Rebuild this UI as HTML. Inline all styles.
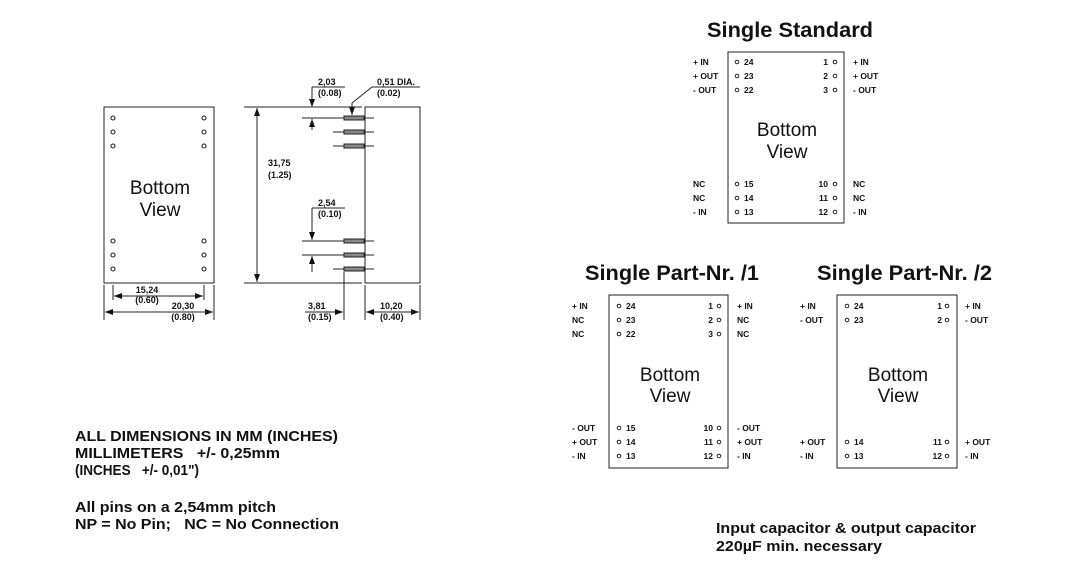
<!DOCTYPE html>
<html><head><meta charset="utf-8"><style>
html,body{margin:0;padding:0;background:#fff;}
svg{display:block;font-family:"Liberation Sans",Arial,sans-serif;}
.b{font-weight:bold;}
.s{font-size:8.5px;font-weight:bold;}
.d{font-size:9px;font-weight:bold;}
</style></head><body>
<svg width="1070" height="587" viewBox="0 0 1070 587" xmlns="http://www.w3.org/2000/svg">
<defs>
<marker id="a" markerWidth="8" markerHeight="6" refX="8" refY="3" orient="auto" markerUnits="userSpaceOnUse"><path d="M0,0 L8,3 L0,6 z" fill="#111"/></marker>
</defs>
<g stroke="#222" fill="none" stroke-width="1">
<rect x="104" y="107" width="110" height="176"/>
<g stroke-width="1.1">
<circle cx="113" cy="118" r="2"/><circle cx="113" cy="132" r="2"/><circle cx="113" cy="146" r="2"/>
<circle cx="113" cy="241" r="2"/><circle cx="113" cy="255" r="2"/><circle cx="113" cy="269" r="2"/>
<circle cx="204" cy="118" r="2"/><circle cx="204" cy="132" r="2"/><circle cx="204" cy="146" r="2"/>
<circle cx="204" cy="241" r="2"/><circle cx="204" cy="255" r="2"/><circle cx="204" cy="269" r="2"/>
</g>
<line x1="104" y1="285" x2="104" y2="320"/><line x1="214" y1="285" x2="214" y2="320"/>
<line x1="113" y1="285" x2="113" y2="300"/><line x1="204" y1="285" x2="204" y2="300"/>
<line x1="114" y1="296" x2="203" y2="296" marker-end="url(#a)"/><line x1="203" y1="296" x2="114" y2="296" marker-end="url(#a)"/>
<line x1="105" y1="312" x2="213" y2="312" marker-end="url(#a)"/><line x1="213" y1="312" x2="105" y2="312" marker-end="url(#a)"/>
<line x1="244" y1="107" x2="362" y2="107"/><line x1="244" y1="283" x2="362" y2="283"/>
<rect x="365" y="107" width="55" height="176"/>
<line x1="257" y1="195" x2="257" y2="108" marker-end="url(#a)"/><line x1="257" y1="195" x2="257" y2="282" marker-end="url(#a)"/>
<line x1="302" y1="118" x2="374" y2="118"/><line x1="333" y1="132" x2="374" y2="132"/><line x1="333" y1="146" x2="374" y2="146"/>
<line x1="302" y1="241" x2="374" y2="241"/><line x1="302" y1="255" x2="374" y2="255"/><line x1="333" y1="269" x2="374" y2="269"/>
<g fill="#888" stroke="#222">
<rect x="344" y="116" width="20" height="4"/><rect x="344" y="130" width="20" height="4"/><rect x="344" y="144" width="20" height="4"/>
<rect x="344" y="239" width="20" height="4"/><rect x="344" y="253" width="20" height="4"/><rect x="344" y="267" width="20" height="4"/>
</g>
<line x1="312" y1="87" x2="345" y2="87"/>
<line x1="312" y1="87" x2="312" y2="107" marker-end="url(#a)"/>
<line x1="312" y1="130" x2="312" y2="119" marker-end="url(#a)"/>
<line x1="372" y1="87" x2="420" y2="87"/><line x1="372" y1="87" x2="352" y2="103"/>
<line x1="352" y1="103" x2="352" y2="115" marker-end="url(#a)"/>
<line x1="312" y1="208" x2="345" y2="208"/>
<line x1="312" y1="208" x2="312" y2="240" marker-end="url(#a)"/>
<line x1="312" y1="272" x2="312" y2="256" marker-end="url(#a)"/>
<line x1="344" y1="272" x2="344" y2="320"/><line x1="365" y1="285" x2="365" y2="320"/><line x1="420" y1="285" x2="420" y2="320"/>
<line x1="305" y1="312" x2="343" y2="312" marker-end="url(#a)"/>
<line x1="366" y1="312" x2="419" y2="312" marker-end="url(#a)"/><line x1="419" y1="312" x2="366" y2="312" marker-end="url(#a)"/>
<rect x="728" y="52" width="116" height="171"/>
<rect x="609" y="295" width="119" height="173"/>
<rect x="837" y="295" width="120" height="173"/>
</g>
<g fill="#111">
<text x="160" y="194" font-size="19" text-anchor="middle">Bottom</text>
<text x="160" y="216" font-size="19" text-anchor="middle">View</text>
<text class="d" x="147" y="293" text-anchor="middle">15,24</text><text class="d" x="147" y="303" text-anchor="middle">(0.60)</text>
<text class="d" x="183" y="309" text-anchor="middle">20,30</text><text class="d" x="183" y="320" text-anchor="middle">(0.80)</text>
<text class="d" x="268" y="166">31,75</text><text class="d" x="268" y="178">(1.25)</text>
<text class="d" x="318" y="85">2,03</text><text class="d" x="318" y="96">(0.08)</text>
<text class="d" x="377" y="85">0,51 DIA.</text><text class="d" x="377" y="96">(0.02)</text>
<text class="d" x="318" y="206">2,54</text><text class="d" x="318" y="217">(0.10)</text>
<text class="d" x="308" y="309">3,81</text><text class="d" x="308" y="320">(0.15)</text>
<text class="d" x="380" y="309">10,20</text><text class="d" x="380" y="320">(0.40)</text>

<g class="b" font-size="15" lengthAdjust="spacingAndGlyphs">
<text x="75" y="441" textLength="263" lengthAdjust="spacingAndGlyphs">ALL DIMENSIONS IN MM (INCHES)</text>
<text x="75" y="458" textLength="205" lengthAdjust="spacingAndGlyphs">MILLIMETERS&#160;&#160; +/- 0,25mm</text>
<text x="75" y="475" textLength="124" lengthAdjust="spacingAndGlyphs">(INCHES&#160;&#160; +/- 0,01")</text>
<text x="75" y="512" textLength="201" lengthAdjust="spacingAndGlyphs">All pins on a 2,54mm pitch</text>
<text x="75" y="529" textLength="264" lengthAdjust="spacingAndGlyphs">NP = No Pin;&#160;&#160; NC = No Connection</text>
<text x="716" y="533" textLength="260" lengthAdjust="spacingAndGlyphs">Input capacitor &amp; output capacitor</text>
<text x="716" y="551" textLength="166" lengthAdjust="spacingAndGlyphs">220µF min. necessary</text>
</g>
<g class="b" font-size="21">
<text x="707" y="37" textLength="166" lengthAdjust="spacingAndGlyphs">Single Standard</text>
<text x="585" y="280" textLength="174" lengthAdjust="spacingAndGlyphs">Single Part-Nr. /1</text>
<text x="817" y="280" textLength="175" lengthAdjust="spacingAndGlyphs">Single Part-Nr. /2</text>
</g>
<g font-size="19" text-anchor="middle">
<text x="787" y="136">Bottom</text><text x="787" y="158">View</text>
<text x="670" y="381">Bottom</text><text x="670" y="402">View</text>
<text x="898" y="381">Bottom</text><text x="898" y="402">View</text>
</g>
<g class="s">
<text x="693" y="65">+ IN</text><text x="693" y="79">+ OUT</text><text x="693" y="93">- OUT</text>
<text x="693" y="187">NC</text><text x="693" y="201">NC</text><text x="693" y="215">- IN</text>
<text x="853" y="65">+ IN</text><text x="853" y="79">+ OUT</text><text x="853" y="93">- OUT</text>
<text x="853" y="187">NC</text><text x="853" y="201">NC</text><text x="853" y="215">- IN</text>
<text x="744" y="65">24</text><text x="744" y="79">23</text><text x="744" y="93">22</text>
<text x="744" y="187">15</text><text x="744" y="201">14</text><text x="744" y="215">13</text>
<g text-anchor="end">
<text x="828" y="65">1</text><text x="828" y="79">2</text><text x="828" y="93">3</text>
<text x="828" y="187">10</text><text x="828" y="201">11</text><text x="828" y="215">12</text>
</g>
<text x="572" y="309">+ IN</text><text x="572" y="323">NC</text><text x="572" y="337">NC</text>
<text x="572" y="431">- OUT</text><text x="572" y="445">+ OUT</text><text x="572" y="459">- IN</text>
<text x="737" y="309">+ IN</text><text x="737" y="323">NC</text><text x="737" y="337">NC</text>
<text x="737" y="431">- OUT</text><text x="737" y="445">+ OUT</text><text x="737" y="459">- IN</text>
<text x="626" y="309">24</text><text x="626" y="323">23</text><text x="626" y="337">22</text>
<text x="626" y="431">15</text><text x="626" y="445">14</text><text x="626" y="459">13</text>
<g text-anchor="end">
<text x="713" y="309">1</text><text x="713" y="323">2</text><text x="713" y="337">3</text>
<text x="713" y="431">10</text><text x="713" y="445">11</text><text x="713" y="459">12</text>
</g>
<text x="800" y="309">+ IN</text><text x="800" y="323">- OUT</text>
<text x="800" y="445">+ OUT</text><text x="800" y="459">- IN</text>
<text x="965" y="309">+ IN</text><text x="965" y="323">- OUT</text>
<text x="965" y="445">+ OUT</text><text x="965" y="459">- IN</text>
<text x="854" y="309">24</text><text x="854" y="323">23</text>
<text x="854" y="445">14</text><text x="854" y="459">13</text>
<g text-anchor="end">
<text x="942" y="309">1</text><text x="942" y="323">2</text>
<text x="942" y="445">11</text><text x="942" y="459">12</text>
</g>
</g>
</g>
<g fill="none" stroke="#222" stroke-width="1">
<circle cx="737" cy="62" r="1.8"/><circle cx="737" cy="76" r="1.8"/><circle cx="737" cy="90" r="1.8"/>
<circle cx="737" cy="184" r="1.8"/><circle cx="737" cy="198" r="1.8"/><circle cx="737" cy="212" r="1.8"/>
<circle cx="835" cy="62" r="1.8"/><circle cx="835" cy="76" r="1.8"/><circle cx="835" cy="90" r="1.8"/>
<circle cx="835" cy="184" r="1.8"/><circle cx="835" cy="198" r="1.8"/><circle cx="835" cy="212" r="1.8"/>
<circle cx="619" cy="306" r="1.8"/><circle cx="619" cy="320" r="1.8"/><circle cx="619" cy="334" r="1.8"/>
<circle cx="619" cy="428" r="1.8"/><circle cx="619" cy="442" r="1.8"/><circle cx="619" cy="456" r="1.8"/>
<circle cx="719" cy="306" r="1.8"/><circle cx="719" cy="320" r="1.8"/><circle cx="719" cy="334" r="1.8"/>
<circle cx="719" cy="428" r="1.8"/><circle cx="719" cy="442" r="1.8"/><circle cx="719" cy="456" r="1.8"/>
<circle cx="847" cy="306" r="1.8"/><circle cx="847" cy="320" r="1.8"/>
<circle cx="847" cy="442" r="1.8"/><circle cx="847" cy="456" r="1.8"/>
<circle cx="947" cy="306" r="1.8"/><circle cx="947" cy="320" r="1.8"/>
<circle cx="947" cy="442" r="1.8"/><circle cx="947" cy="456" r="1.8"/>
</g>
</svg>
</body></html>
